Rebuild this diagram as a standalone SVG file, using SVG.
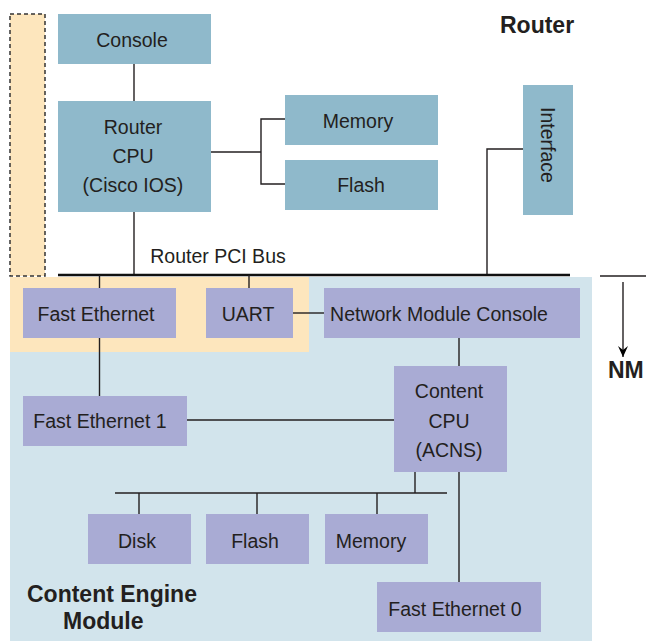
<svg xmlns="http://www.w3.org/2000/svg" width="646" height="641" viewBox="0 0 646 641">
<defs>
<style>
.rb{fill:#8FB9CB}
.mb{fill:#A9ABD4}
.t{font-family:"Liberation Sans",Arial,sans-serif;font-size:19.5px;fill:#231F20;text-anchor:middle}
.b{font-family:"Liberation Sans",Arial,sans-serif;font-size:23px;font-weight:bold;fill:#231F20}
.c{stroke:#231F20;stroke-width:1.4;fill:none}
</style>
<marker id="ah" markerWidth="12" markerHeight="10" refX="11" refY="5" orient="auto" markerUnits="userSpaceOnUse">
<path d="M0,0 L11,5 L0,10 L4,5 Z" fill="#000"/>
</marker>
</defs>
<rect width="646" height="641" fill="#fff"/>
<g id="backgrounds">
<rect x="10" y="277" width="582" height="364" fill="#D2E4EC"/>
<rect x="10" y="277" width="299" height="75" fill="#FDE6BD"/>
<rect x="10" y="14" width="35" height="262" fill="#FDE6BD" stroke="#333" stroke-width="1.5" stroke-dasharray="4,3"/>
</g>
<g id="connectors">
<line class="c" x1="134" y1="64" x2="134" y2="101"/>
<line class="c" x1="134" y1="212" x2="134" y2="275"/>
<polyline class="c" points="211,152 261,152"/>
<polyline class="c" points="285,119 261,119 261,184 285,184"/>
<polyline class="c" points="523,149 487,149 487,275"/>
<line x1="58" y1="275" x2="570" y2="275" stroke="#111" stroke-width="2.5"/>
<line class="c" x1="99.5" y1="275" x2="99.5" y2="288"/>
<line class="c" x1="249" y1="275" x2="249" y2="288"/>
<line class="c" x1="99.5" y1="338" x2="99.5" y2="396"/>
<line class="c" x1="293" y1="313" x2="324" y2="313"/>
<line class="c" x1="459" y1="338" x2="459" y2="366"/>
<line class="c" x1="187" y1="420" x2="394" y2="420"/>
<line class="c" x1="415" y1="472" x2="415" y2="493"/>
<line class="c" x1="115" y1="493" x2="447" y2="493"/>
<line class="c" x1="139" y1="493" x2="139" y2="514"/>
<line class="c" x1="257" y1="493" x2="257" y2="514"/>
<line class="c" x1="377" y1="493" x2="377" y2="514"/>
<line class="c" x1="459" y1="472" x2="459" y2="582"/>
<line class="c" x1="600" y1="276" x2="646" y2="276"/>
<line class="c" x1="623" y1="282" x2="623" y2="357" marker-end="url(#ah)"/>
</g>
<g id="console"><rect class="rb" x="58" y="14" width="153" height="50"/><text class="t" x="132" y="47">Console</text></g>
<g id="router-cpu"><rect class="rb" x="58" y="101" width="153" height="111"/>
<text class="t" x="133" y="134">Router</text><text class="t" x="133" y="163">CPU</text><text class="t" x="133" y="192">(Cisco IOS)</text></g>
<g id="memory"><rect class="rb" x="285" y="95" width="153" height="50"/><text class="t" x="358" y="128">Memory</text></g>
<g id="flash"><rect class="rb" x="285" y="160" width="153" height="50"/><text class="t" x="361" y="192">Flash</text></g>
<g id="interface"><rect class="rb" x="523" y="85" width="50" height="130"/><text class="t" transform="translate(541,145) rotate(90)">Interface</text></g>
<g id="router-label"><text class="b" x="500" y="33">Router</text></g>
<g id="bus-label"><text class="t" x="218" y="263">Router PCI Bus</text></g>
<g id="nm-label"><text class="b" x="608" y="378">NM</text></g>
<g id="fast-ethernet"><rect class="mb" x="23" y="288" width="153" height="50"/><text class="t" x="96" y="321">Fast Ethernet</text></g>
<g id="uart"><rect class="mb" x="206" y="288" width="87" height="50"/><text class="t" x="248" y="321">UART</text></g>
<g id="nm-console"><rect class="mb" x="324" y="288" width="256" height="50"/><text class="t" x="439" y="321">Network Module Console</text></g>
<g id="fast-ethernet-1"><rect class="mb" x="23" y="396" width="164" height="50"/><text class="t" x="100" y="428">Fast Ethernet 1</text></g>
<g id="content-cpu"><rect class="mb" x="394" y="366" width="113" height="106"/>
<text class="t" x="449" y="398">Content</text><text class="t" x="449" y="428">CPU</text><text class="t" x="449" y="457">(ACNS)</text></g>
<g id="disk"><rect class="mb" x="88" y="514" width="103" height="50"/><text class="t" x="137" y="548">Disk</text></g>
<g id="ce-flash"><rect class="mb" x="206" y="514" width="103" height="50"/><text class="t" x="255" y="548">Flash</text></g>
<g id="ce-memory"><rect class="mb" x="325" y="514" width="103" height="50"/><text class="t" x="371" y="548">Memory</text></g>
<g id="fast-ethernet-0"><rect class="mb" x="377" y="582" width="164" height="50"/><text class="t" x="455" y="616">Fast Ethernet 0</text></g>
<g id="module-label"><text class="b" x="27" y="602">Content Engine</text><text class="b" x="63" y="629">Module</text></g>
</svg>
